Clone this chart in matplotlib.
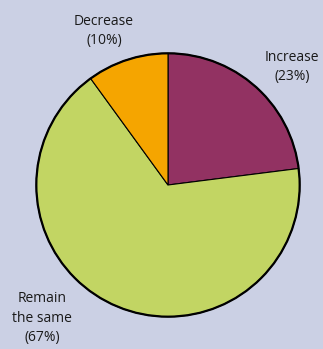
import matplotlib
matplotlib.use("Agg")
import matplotlib.pyplot as plt
from matplotlib.patches import Circle

# data (clockwise from 12 o'clock)
categories = ["Increase", "Remain\nthe same", "Decrease"]
shares = [23, 67, 10]
colours = ["#923262", "#c2d563", "#f5a500"]

W, H = 323, 349
bg = "#cbd0e4"

fig = plt.figure(figsize=(W / 100, H / 100), dpi=100)
fig.patch.set_facecolor(bg)

# pie centre (168,185) px, radius 133 px
cx, cy, r = 168, 185, 133
ax = fig.add_axes([(cx - r) / W, (H - cy - r) / H, 2 * r / W, 2 * r / H])
ax.set_facecolor(bg)
ax.axis("off")

ax.pie(shares, colors=colours, startangle=90, counterclock=False,
       radius=1, wedgeprops=dict(edgecolor="black", linewidth=0.8))
ax.add_patch(Circle((0, 0), 1, fill=False, edgecolor="black", linewidth=1.6))
ax.set_xlim(-1.01, 1.01)
ax.set_ylim(-1.01, 1.01)
ax.set_aspect("equal")

# label positions in pixels (centre of text block)
label_pos = {"Increase": (292, 67), "Remain\nthe same": (42, 318), "Decrease": (104, 31)}
for name, val in zip(categories, shares):
    px, py = label_pos[name]
    fig.text(px / W, 1 - py / H, "%s\n(%d%%)" % (name, val), ha="center", va="center",
             fontsize=10, family="Open Sans", color="#1a1a1a", linespacing=1.45)

plt.savefig("out.png", dpi=100, facecolor=bg)
